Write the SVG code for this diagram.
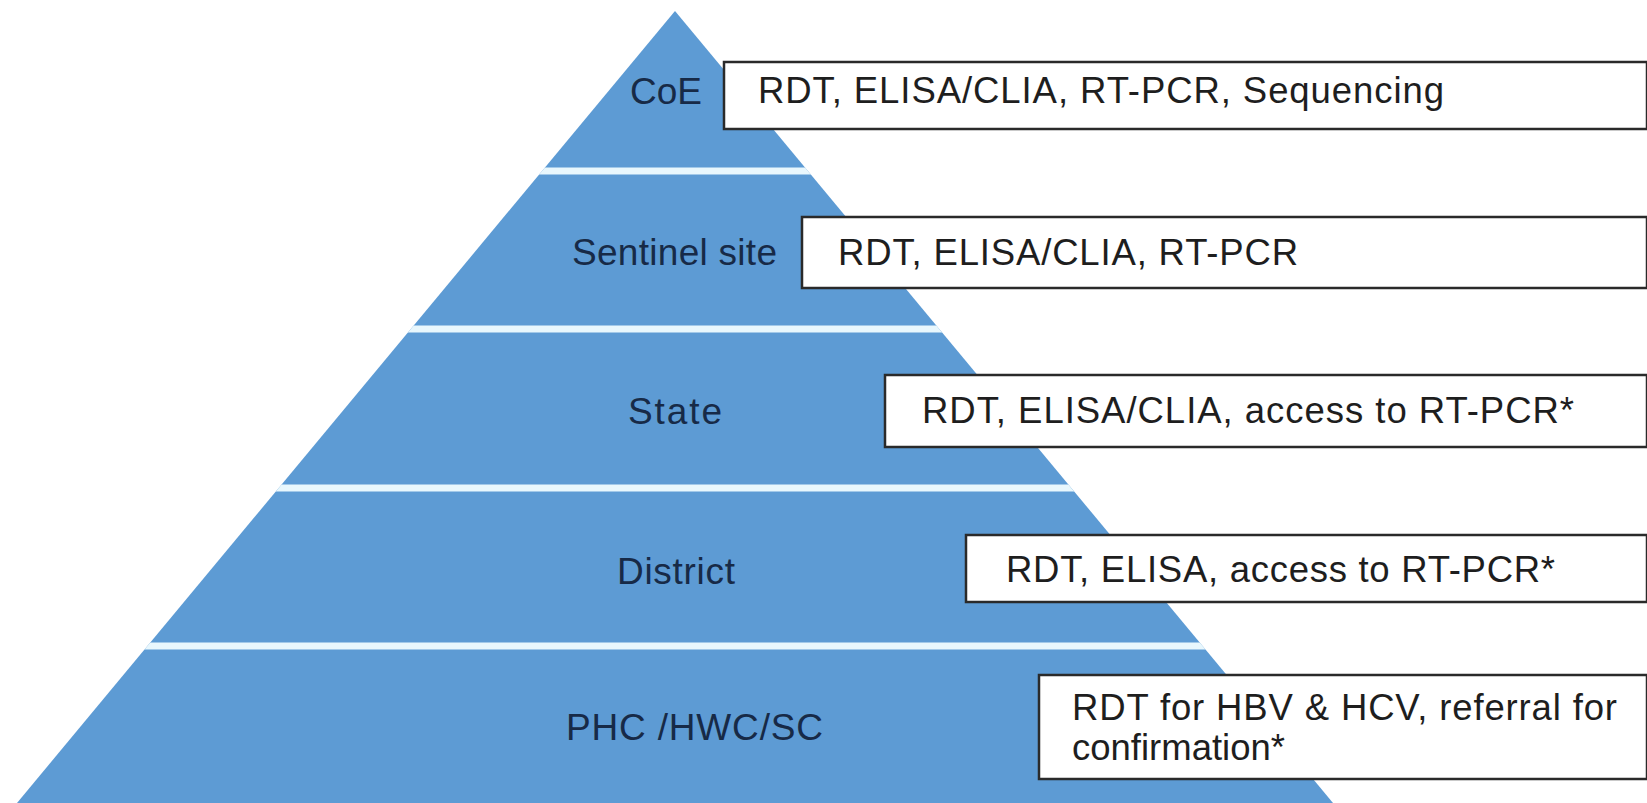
<svg xmlns="http://www.w3.org/2000/svg" width="1647" height="803" viewBox="0 0 1647 803">
<style>
.lbl{font-family:"Liberation Sans",Arial,sans-serif;font-size:37px;fill:#172a47}
.txt{font-family:"Liberation Sans",Arial,sans-serif;font-size:36.5px;fill:#1e1e1e}
.box{fill:#ffffff;stroke:#2a2a2a;stroke-width:2.5}
.sep{stroke:#e8f7fd;stroke-width:7}
</style>
<defs>
<clipPath id="pyr"><polygon points="675,11 1333,803 17,803"/></clipPath>
</defs>
<rect width="1647" height="803" fill="#ffffff"/>
<g id="pyramid">
<polygon points="675,11 1333,803 17,803" fill="#5d9bd4"/>
<g clip-path="url(#pyr)">
<line class="sep" x1="0" y1="171" x2="1647" y2="171"/>
<line class="sep" x1="0" y1="329" x2="1647" y2="329"/>
<line class="sep" x1="0" y1="488" x2="1647" y2="488"/>
<line class="sep" x1="0" y1="646" x2="1647" y2="646"/>
</g>
</g>
<g id="tier-coe">
<text class="lbl" x="630" y="104" textLength="72">CoE</text>
<rect class="box" x="724" y="62" width="923" height="67"/>
<text class="txt" x="758" y="103" textLength="686">RDT, ELISA/CLIA, RT-PCR, Sequencing</text>
</g>
<g id="tier-sentinel">
<text class="lbl" x="572" y="265" textLength="205">Sentinel site</text>
<rect class="box" x="802" y="217" width="845" height="71"/>
<text class="txt" x="838" y="265" textLength="460">RDT, ELISA/CLIA, RT-PCR</text>
</g>
<g id="tier-state">
<text class="lbl" x="628" y="424" textLength="94">State</text>
<rect class="box" x="885" y="375" width="762" height="72"/>
<text class="txt" x="922" y="423" textLength="652">RDT, ELISA/CLIA, access to RT-PCR*</text>
</g>
<g id="tier-district">
<text class="lbl" x="617" y="584" textLength="118">District</text>
<rect class="box" x="966" y="535" width="681" height="67"/>
<text class="txt" x="1006" y="582" textLength="549">RDT, ELISA, access to RT-PCR*</text>
</g>
<g id="tier-phc">
<text class="lbl" x="566" y="740" textLength="257">PHC /HWC/SC</text>
<rect class="box" x="1039" y="675" width="608" height="104"/>
<text class="txt" x="1072" y="720" textLength="545">RDT for HBV &amp; HCV, referral for</text>
<text class="txt" x="1072" y="760">confirmation*</text>
</g>
<g id="connectors"/>
</svg>
